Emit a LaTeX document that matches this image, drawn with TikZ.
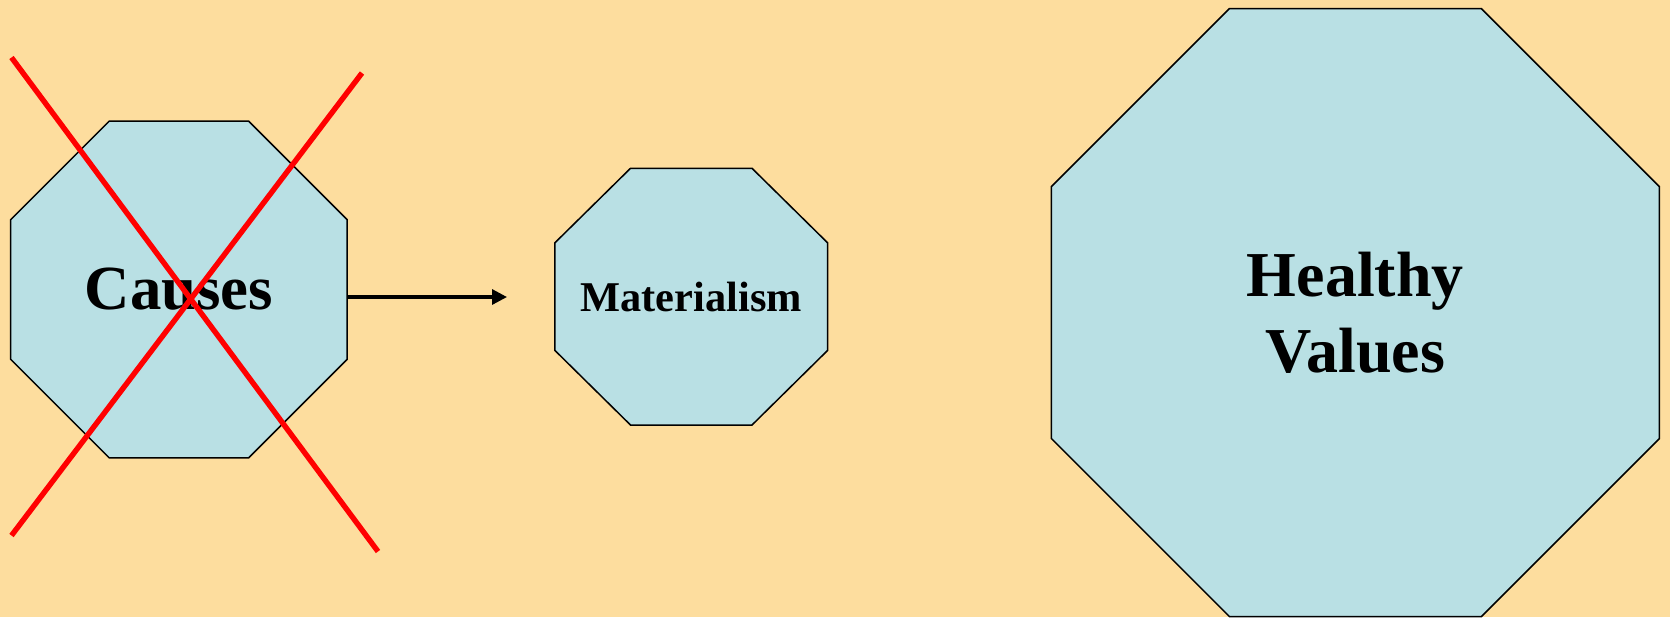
\documentclass[tikz,border=0pt]{standalone}
\usepackage{fontspec}
\setmainfont{Liberation Serif}
\usetikzlibrary{shapes.geometric,arrows.meta}
\definecolor{sand}{HTML}{FDDD9E}
\definecolor{paleblue}{HTML}{B9E0E4}
\definecolor{crossred}{HTML}{FF0000}
\tikzset{
  octoline/.style={draw=black,line width=0.75pt,fill=paleblue},
  octo/.style={regular polygon,regular polygon sides=8,octoline,
    inner sep=0pt,outer sep=0pt,align=center,font=\bfseries},
  cross/.style={draw=crossred,line width=2.7pt},
  arr/.style={draw=black,line width=1.6pt,-{Triangle[length=7.5pt,width=7.5pt]}}
}
\begin{document}
\begin{tikzpicture}[x=0.5pt,y=-0.5pt]
\fill[sand] (0,0) rectangle (1670,617);
\useasboundingbox (0,0) rectangle (1670,617);
% octagons
\node[octo,minimum size=182.2pt,
  font=\bfseries\fontsize{31.4}{36}\selectfont] (causes) at (178.9,289.5) {Causes};
\draw[octoline] (630.5,168.3) -- (752,168.3) -- (827.6,242.8) -- (827.6,350.4)
  -- (752,425) -- (630.5,425) -- (554.9,350.4) -- (554.9,242.8) -- cycle;
\node[font=\bfseries\fontsize{21.2}{24}\selectfont] (materialism) at (691.2,296.6) {Materialism};
\node[octo,minimum size=329.1pt,
  font=\bfseries\fontsize{32}{38}\selectfont] (healthy) at (1355.4,312.6) {Healthy\\Values};
% arrow out of causes
\coordinate (tip) at (507,297);
\draw[arr] (causes.east |- tip) -- (tip);
% crossing out
\coordinate (xa1) at (11.5,57.5);
\coordinate (xa2) at (378,551.5);
\coordinate (xb1) at (362,73);
\coordinate (xb2) at (11.5,535.5);
\draw[cross] (xa1) -- (xa2);
\draw[cross] (xb1) -- (xb2);
\end{tikzpicture}
\end{document}
